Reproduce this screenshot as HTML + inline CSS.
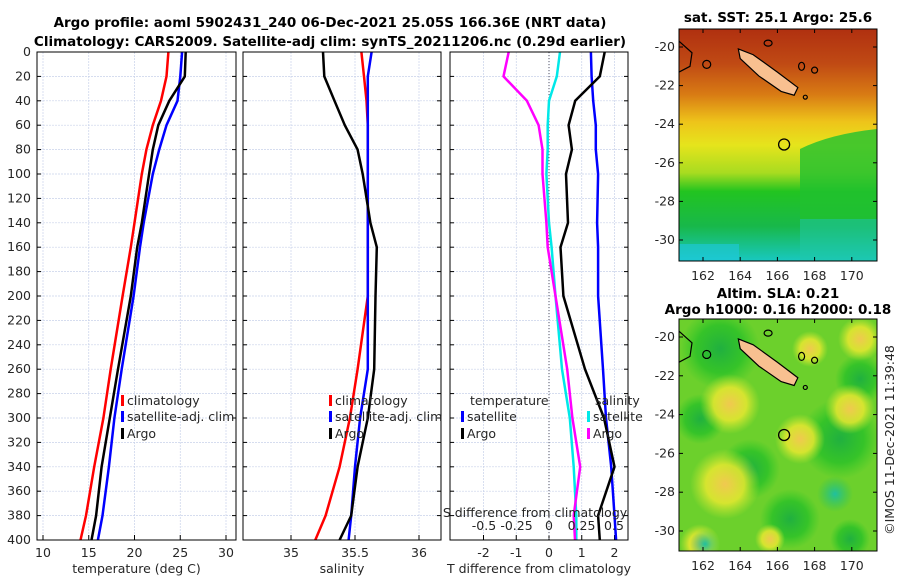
<!DOCTYPE html>
<html><head><meta charset="utf-8">
<style>
html,body{margin:0;padding:0;background:#fff;}
svg{display:block;font-family:"DejaVu Sans","Liberation Sans",sans-serif;}
.tk{font-size:12.5px;fill:#262626;}
.tt{font-size:13.5px;font-weight:bold;fill:#000;}
</style></head><body>
<svg id="fig" width="900" height="580" viewBox="0 0 900 580" xmlns="http://www.w3.org/2000/svg">
<defs>
<linearGradient id="sstg" x1="0" y1="0" x2="0" y2="1">
<stop offset="0" stop-color="#b03010"/><stop offset="0.15" stop-color="#c04a14"/>
<stop offset="0.28" stop-color="#d87a14"/><stop offset="0.4" stop-color="#eec41a"/>
<stop offset="0.5" stop-color="#e6e41c"/><stop offset="0.62" stop-color="#a8dc20"/>
<stop offset="0.7" stop-color="#22c420"/><stop offset="0.85" stop-color="#18b84a"/>
<stop offset="1" stop-color="#18c8c0"/>
</linearGradient>
<radialGradient id="yb"><stop offset="0" stop-color="#f0c850"/><stop offset="0.55" stop-color="#e8e830" stop-opacity="0.85"/><stop offset="1" stop-color="#c8e830" stop-opacity="0"/></radialGradient>
<radialGradient id="gb"><stop offset="0" stop-color="#20b040"/><stop offset="0.6" stop-color="#28c028" stop-opacity="0.8"/><stop offset="1" stop-color="#30c828" stop-opacity="0"/></radialGradient>
<radialGradient id="tb"><stop offset="0" stop-color="#20c0a0"/><stop offset="1" stop-color="#20c060" stop-opacity="0"/></radialGradient>
<clipPath id="c1"><rect x="679" y="29" width="198" height="232"/></clipPath>
<clipPath id="c2"><rect x="679" y="319" width="198" height="232"/></clipPath>
</defs>
<text class="tt" x="330" y="27" text-anchor="middle">Argo profile: aoml 5902431_240 06-Dec-2021 25.05S 166.36E (NRT data)</text>
<text class="tt" x="330" y="46" text-anchor="middle">Climatology: CARS2009. Satellite-adj clim: synTS_20211206.nc (0.29d earlier)</text>
<g id="panels"></g>
<g id="maps"></g>
<text class="tk" transform="translate(894,440) rotate(-90)" text-anchor="middle">©IMOS 11-Dec-2021 11:39:48</text>
</svg>
<script>
// ---- data ----
const depths = [0,20,40,60,80,100,140,160,200,260,300,340,380,400];
const tempClim = [23.7,23.5,22.9,22.0,21.3,20.8,20.0,19.6,18.7,17.4,16.6,15.6,14.7,14.1];
const tempSat  = [25.2,25.0,24.7,23.5,22.7,22.0,21.0,20.6,19.9,18.6,17.8,17.2,16.5,16.0];
const tempArgo = [25.6,25.5,23.8,22.6,22.0,21.6,20.8,20.3,19.6,18.2,17.3,16.4,15.8,15.3];
const salClim = [35.55,35.57,35.59,35.6,35.6,35.6,35.6,35.6,35.6,35.52,35.46,35.38,35.27,35.19];
const salSat  = [35.63,35.6,35.6,35.6,35.6,35.6,35.6,35.6,35.6,35.6,35.54,35.5,35.47,35.45];
const salArgo = [35.25,35.26,35.34,35.42,35.52,35.56,35.62,35.67,35.66,35.65,35.6,35.52,35.47,35.38];
const tdiffSat  = [1.28,1.3,1.35,1.43,1.43,1.5,1.47,1.5,1.5,1.65,1.74,1.9,2.0,2.05];
const tdiffArgo = [1.7,1.55,0.8,0.6,0.7,0.52,0.58,0.35,0.44,1.1,1.68,2.0,1.5,1.55];
const sdiffSat  = [0.085,0.06,0.0,-0.01,-0.01,-0.02,0.0,0.02,0.05,0.1,0.16,0.19,0.21,0.21];
const sdiffArgo = [-0.31,-0.35,-0.17,-0.08,-0.05,-0.05,-0.02,-0.01,0.05,0.14,0.18,0.24,0.19,0.2];
const tempTicks=[10,15,20,25,30], salTicks=[35,35.5,36], tdTicks=[-2,-1,0,1,2], sdTicks=[-0.5,-0.25,0,0.25,0.5];
const depthTicks=[0,20,40,60,80,100,120,140,160,180,200,220,240,260,280,300,320,340,360,380,400];
const lonTicks=[162,164,166,168,170], latTicks=[-20,-22,-24,-26,-28,-30];

const NS="http://www.w3.org/2000/svg";
function mk(tag,attrs,parent,txt){const e=document.createElementNS(NS,tag);for(const k in attrs)e.setAttribute(k,attrs[k]);if(txt!==undefined)e.textContent=txt;parent.appendChild(e);return e;}
const P=document.getElementById('panels');
const Y=d=>52+d*(488/400);
const panels=[
 {x0:37,x1:236,sx:v=>43+(v-10)*9.15,ticks:tempTicks,label:'temperature (deg C)',name:'temperature'},
 {x0:243,x1:441,sx:v=>291+(v-35)*128,ticks:salTicks,label:'salinity',name:'salinity'},
 {x0:450,x1:628,sx:v=>549+v*32.75,ticks:tdTicks,label:'T difference from climatology',name:'difference'}];
const sdx=v=>549+v*130;
panels.forEach((p,i)=>{
 const g=mk('g',{},P);
 
 
 depthTicks.forEach(d=>{mk('line',{x1:p.x0,x2:p.x1,y1:Y(d),y2:Y(d),stroke:'#c8d2ea','stroke-width':0.7,'stroke-dasharray':'2,1'},g);});
 p.ticks.forEach(t=>{const x=p.sx(t);mk('line',{x1:x,x2:x,y1:52,y2:540,stroke:'#c8d2ea','stroke-width':0.7,'stroke-dasharray':'2,1'},g);
  mk('line',{x1:x,x2:x,y1:540,y2:535,stroke:'#000'},g);
  const tl=mk('text',{class:'tk',x:x,y:557,'text-anchor':'middle'},g,String(t));
  
  });
 depthTicks.forEach(d=>{mk('line',{x1:p.x0,x2:p.x0+4,y1:Y(d),y2:Y(d),stroke:'#000'},g);mk('line',{x1:p.x1,x2:p.x1-4,y1:Y(d),y2:Y(d),stroke:'#000'},g);
  if(i==0){const tl=mk('text',{class:'tk',x:31,y:Y(d)+4,'text-anchor':'end'},g,String(d));
   
   }});
 const xl=mk('text',{class:'tk',x:(p.x0+p.x1)/2,y:573,'text-anchor':'middle','font-size':'13px'},g,p.label);
 
 
 p.g=g;
});
function line(g,fx,vals,color,name){
 const pts=vals.map((v,k)=>fx(v).toFixed(1)+','+Y(depths[k]).toFixed(1)).join(' ');
 const e=mk('polyline',{points:pts,fill:'none',stroke:color,'stroke-width':2.5,'stroke-linejoin':'round'},g);
 
 
}
const g3=panels[2].g;
mk('line',{x1:549,x2:549,y1:52,y2:540,stroke:'#556',"stroke-width":1,'stroke-dasharray':'1,2'},g3);
line(panels[0].g,panels[0].sx,tempClim,'#ff0000','temp-climatology-line');
line(panels[0].g,panels[0].sx,tempSat,'#0000ff','temp-satellite-line');
line(panels[0].g,panels[0].sx,tempArgo,'#000000','temp-argo-line');
line(panels[1].g,panels[1].sx,salClim,'#ff0000','sal-climatology-line');
line(panels[1].g,panels[1].sx,salSat,'#0000ff','sal-satellite-line');
line(panels[1].g,panels[1].sx,salArgo,'#000000','sal-argo-line');
line(g3,sdx,sdiffSat,'#00e8e8','sdiff-satellite-line');
line(g3,sdx,sdiffArgo,'#ff00ff','sdiff-argo-line');
line(g3,panels[2].sx,tdiffSat,'#0000ff','tdiff-satellite-line');
line(g3,panels[2].sx,tdiffArgo,'#000000','tdiff-argo-line');
sdTicks.forEach(t=>{const tl=mk('text',{class:'tk',x:sdx(t),y:530,'text-anchor':'middle'},g3,String(t));
 
 });
const st=mk('text',{class:'tk',x:535,y:517,'text-anchor':'middle','font-size':'13px'},g3,'S difference from climatology');


panels.forEach(p=>{mk('rect',{x:p.x0,y:52,width:p.x1-p.x0,height:488,fill:'none',stroke:'#000','stroke-width':1},p.g);});
function legend(g,x,y,color,label){
 const lg=mk('g',{},g);
 
 
 if(color)mk('rect',{x:x,y:y-10,width:3,height:11,fill:color},lg);
 mk('text',{class:'tk',x:x+6,y:y,'font-size':'13px'},lg,label);
}
[[panels[0].g,121],[panels[1].g,329]].forEach(([g,x])=>{
 legend(g,x,405,'#ff0000','climatology');legend(g,x,421,'#0000ff','satellite-adj. clim');legend(g,x,438,'#000000','Argo');});
legend(g3,464,405,null,'temperature');legend(g3,461,421,'#0000ff','satellite');legend(g3,461,438,'#000000','Argo');
legend(g3,589,405,null,'salinity');legend(g3,587,421,'#00e8e8','satellite');legend(g3,587,438,'#ff00ff','Argo');

// ---- maps ----
const M=document.getElementById('maps');
function map(y0,lat20,lat30,title,title2,name,sst){
 const g=mk('g',{},M);
 
 
 const lx=v=>703+(v-162)*18.6, ly=v=>lat20+(-20-v)*(lat30-lat20)/10;
 const c=mk('g',{'clip-path':sst?'url(#c1)':'url(#c2)'},g);
 if(sst){
  mk('rect',{x:679,y:y0,width:198,height:232,fill:'url(#sstg)'},c);
  mk('path',{d:`M800 ${y0+120} Q830 ${y0+105} 877 ${y0+100} L877 ${y0+190} L800 ${y0+190} Z`,fill:'#20c030',opacity:0.8},c);
  mk('rect',{x:800,y:y0+190,width:77,height:42,fill:'#20c8a8',opacity:0.5},c);
  mk('rect',{x:679,y:y0+215,width:60,height:17,fill:'#20c8e0',opacity:0.6},c);
 } else {
  mk('rect',{x:679,y:y0,width:198,height:232,fill:'#6cd02c'},c);
  [[720,y0+30,40],[840,y0+120,40],[750,y0+150,30],[860,y0+60,25],[790,y0+200,30],[700,y0+100,25],[850,y0+220,20]].forEach(b=>mk('circle',{cx:b[0],cy:b[1],r:b[2],fill:'url(#gb)'},c));
  [[730,y0+85,30],[725,y0+165,35],[800,y0+120,25],[860,y0+20,22],[850,y0+90,25],[700,y0+225,20],[770,y0+220,15],[810,y0+30,18]].forEach(b=>mk('circle',{cx:b[0],cy:b[1],r:b[2],fill:'url(#yb)'},c));
  mk('circle',{cx:835,cy:y0+175,r:18,fill:'url(#tb)'},c);
  mk('circle',{cx:705,cy:y0+225,r:15,fill:'url(#tb)'},c);
 }
 const isl=mk('polygon',{points:`${lx(163.9)},${ly(-20.1)} ${lx(164.7)},${ly(-20.4)} ${lx(166)},${ly(-21.3)} ${lx(167.1)},${ly(-22.1)} ${lx(166.9)},${ly(-22.5)} ${lx(166.2)},${ly(-22.3)} ${lx(165)},${ly(-21.5)} ${lx(164)},${ly(-20.6)}`,fill:'#f8c090',stroke:'#000','stroke-width':1.2},c);
 
 
 [[167.3,-21.0,3,4],[168,-21.2,3,3],[165.5,-19.8,4,3],[162.2,-20.9,4,4],[167.5,-22.6,2,2]].forEach(s=>mk('ellipse',{cx:lx(s[0]),cy:ly(s[1]),rx:s[2],ry:s[3],fill:'none',stroke:'#000','stroke-width':1.2},c));
 mk('path',{d:`M679 ${ly(-19.7)} L692 ${ly(-20.3)} L690 ${ly(-21)} L679 ${ly(-21.3)}`,fill:'none',stroke:'#000','stroke-width':1.2},c);
 const mk1=mk('circle',{cx:lx(166.36),cy:ly(-25.05),r:5.5,fill:'none',stroke:'#000','stroke-width':1.3},g);
 
 
 mk('rect',{x:679,y:y0,width:198,height:232,fill:'none',stroke:'#000'},g);
 lonTicks.forEach(v=>{mk('line',{x1:lx(v),x2:lx(v),y1:y0+232,y2:y0+228,stroke:'#000'},g);mk('line',{x1:lx(v),x2:lx(v),y1:y0,y2:y0+4,stroke:'#000'},g);
  const t=mk('text',{class:'tk',x:lx(v),y:y0+251,'text-anchor':'middle'},g,String(v));
  
  });
 latTicks.forEach(v=>{mk('line',{x1:679,x2:683,y1:ly(v),y2:ly(v),stroke:'#000'},g);mk('line',{x1:877,x2:873,y1:ly(v),y2:ly(v),stroke:'#000'},g);
  const t=mk('text',{class:'tk',x:675,y:ly(v)+4,'text-anchor':'end'},g,String(v));
  
  });
 const t1=mk('text',{class:'tt',x:778,y:title2?y0-21:y0-7,'text-anchor':'middle'},g,title);
 
 
 if(title2){const t2=mk('text',{class:'tt',x:778,y:y0-5,'text-anchor':'middle'},g,title2);
  
  }
}
map(29,47,240,'sat. SST: 25.1 Argo: 25.6',null,'sst-map',true);
map(319,337,531,'Altim. SLA: 0.21','Argo h1000: 0.16 h2000: 0.18','sla-map',false);
</script>
</body></html>
